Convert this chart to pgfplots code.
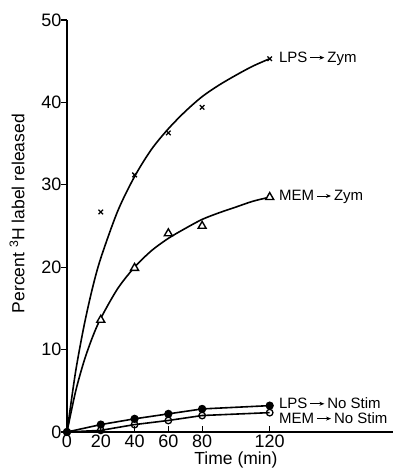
\documentclass[border=0pt]{standalone}
\usepackage{pgfplots}
\pgfplotsset{compat=1.18}
\usepackage{fontspec}
\setmainfont{Liberation Sans}
\usetikzlibrary{arrows.meta}
\newcommand{\arr}{\tikz[baseline=-0.6ex]\draw[line width=1pt,-{Stealth[length=5pt,width=4pt]}](0,0)--(14pt,0);}
\newcommand{\tl}[1]{{\fontsize{18}{20}\selectfont #1}}
\begin{document}
\begin{tikzpicture}
\useasboundingbox (-67pt,-38pt) rectangle (326pt,432pt);
\begin{axis}[
  at={(0,0)}, anchor=origin,
  scale only axis, width=326pt, height=412pt,
  xmin=0, xmax=193, ymin=0, ymax=50,
  axis x line*=bottom, axis y line*=left,
  axis line style={line width=1.4pt},
  xtick={0,20,40,60,80,120},
  xticklabels={\tl{0},\tl{20},\tl{40},\tl{60},\tl{80},\tl{120}},
  ytick={0,10,20,30,40,50},
  yticklabels={\tl{0},\tl{10},\tl{20},\tl{30},\tl{40},\tl{50}},
  tick align=inside,
  major tick length=6pt,
  tick style={line width=1.1pt, black},
  ytick style={xshift=-6pt},
  xticklabel style={yshift=1pt},
  yticklabel style={xshift=-2pt},
  label style={font=\fontsize{17.5}{20}\selectfont},
  xlabel={Time (min)},
  ylabel={Percent \textsuperscript{3}H label released},
  xlabel style={at={(axis cs:100,0)}, anchor=center, yshift=-28pt},
  ylabel style={at={([xshift=-50pt]axis cs:0,26.5)}, anchor=center},
  clip=false,
]
% smooth fitted curves
\addplot[line width=1.6pt, smooth, no marks] coordinates {
 (0,0) (5,7.2) (10,12.8) (15,17.4) (20,21.1) (30,26.8) (40,31.0) (50,34.3)
 (60,36.8) (70,38.9) (80,40.7) (90,42.1) (100,43.3) (110,44.4) (120,45.3)};
\addplot[line width=1.6pt, smooth, no marks] coordinates {
 (0,0) (5,4.84) (10,8.54) (15,11.46) (20,13.8) (30,17.4) (40,20.0) (50,22.0)
 (60,23.5) (70,24.7) (80,25.8) (90,26.6) (100,27.3) (110,28.0) (120,28.5)};
% LPS -> Zym points
\addplot[only marks, mark=x, mark size=3.2pt, mark options={line width=1.3pt}] coordinates {
 (20,26.7) (40,31.2) (60,36.3) (80,39.4) (120,45.3)};
% MEM -> Zym points
\addplot[only marks, mark=triangle*, mark size=4.6pt, mark options={fill=white, draw=black, line width=1.4pt}] coordinates {
 (20,13.6) (40,19.9) (60,24.1) (80,25.0) (120,28.5)};
% LPS -> No Stim
\addplot[line width=1.6pt, mark=*, mark size=3.3pt, mark options={fill=black}] coordinates {
 (0,0) (20,0.9) (40,1.6) (60,2.2) (80,2.8) (120,3.2)};
% MEM -> No Stim
\addplot[line width=1.6pt, mark=o, mark size=3.3pt, mark options={fill=white, line width=1.3pt}] coordinates {
 (0,0) (20,0.2) (40,0.9) (60,1.4) (80,2.0) (120,2.35)};
\node[anchor=west, font=\fontsize{15}{18}\selectfont, inner sep=0pt] at (axis cs:125.4,45.3) {LPS\,\arr\,Zym};
\node[anchor=west, font=\fontsize{15}{18}\selectfont, inner sep=0pt] at (axis cs:125.4,28.5) {MEM\,\arr\,Zym};
\node[anchor=west, font=\fontsize{15}{18}\selectfont, inner sep=0pt] at (axis cs:125.4,3.5) {LPS\,\arr\,No Stim};
\node[anchor=west, font=\fontsize{15}{18}\selectfont, inner sep=0pt] at (axis cs:125.4,1.7) {MEM\,\arr\,No Stim};
\end{axis}
\end{tikzpicture}
\end{document}
